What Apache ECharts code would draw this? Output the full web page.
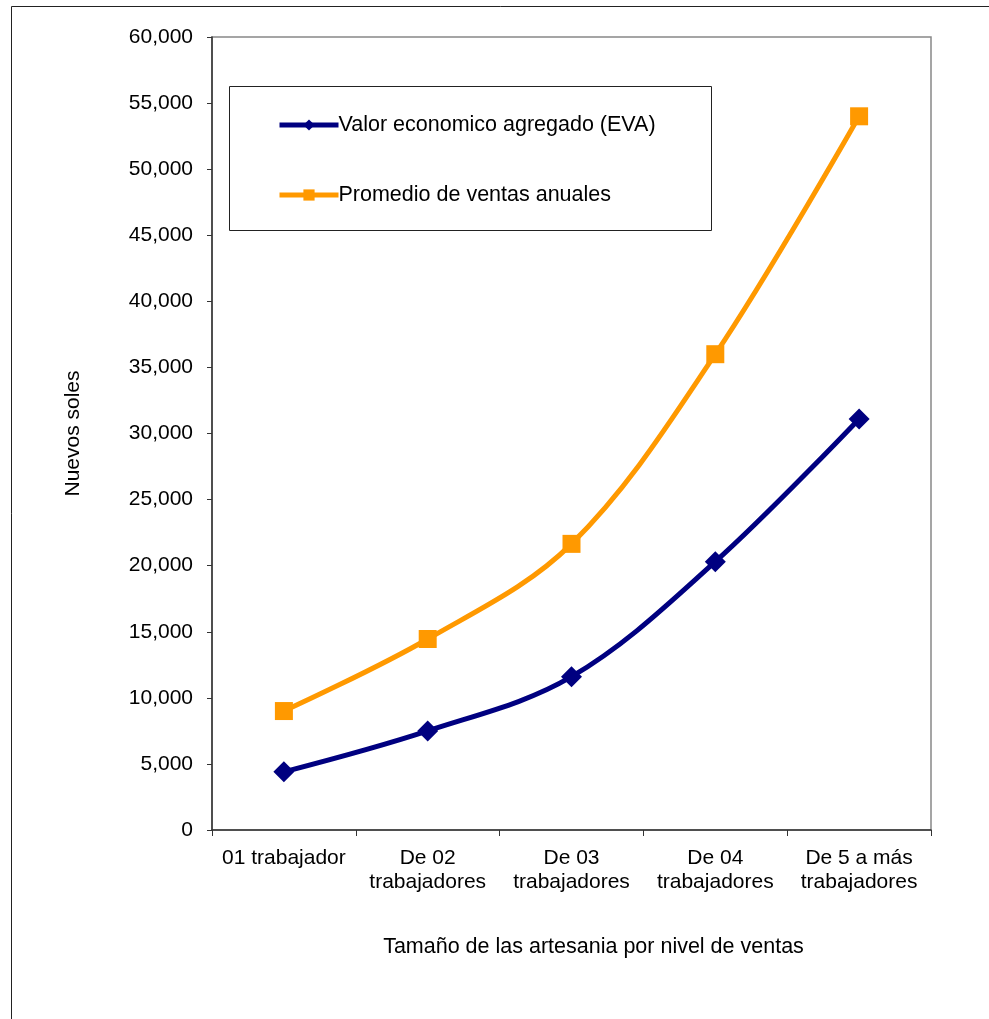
<!DOCTYPE html>
<html>
<head>
<meta charset="utf-8">
<script src="https://cdn.jsdelivr.net/npm/echarts@6/dist/echarts.min.js"></script>
<style>
  html, body { margin: 0; padding: 0; background: #fff; }
  #chart { width: 989px; height: 1019px; }
</style>
</head>
<body>
<div id="chart"></div>
<script>
// Categories: company size by number of workers
const categories = ['01 trabajador', 'De 02\ntrabajadores', 'De 03\ntrabajadores', 'De 04\ntrabajadores', 'De 5 a más\ntrabajadores'];
// Economic value added (EVA), in nuevos soles
const evaValues = [4400, 7500, 11600, 20300, 31100];
// Average annual sales, in nuevos soles
const salesValues = [9000, 14450, 21650, 36000, 54000];
const seriesNames = ['Valor economico agregado (EVA)', 'Promedio de ventas anuales'];

const FONT = 'Liberation Sans, Arial, sans-serif';
const FS = 21;
const chart = echarts.init(document.getElementById('chart'));

chart.setOption({
  backgroundColor: '#ffffff',
  animation: false,
  textStyle: { fontFamily: FONT, color: '#000' },
  graphic: [
    // outer chart frame (top and left edges visible)
    { type: 'polyline', silent: true, shape: { points: [[11.5, 1100], [11.5, 6.5], [1100, 6.5]] },
      style: { stroke: '#222', lineWidth: 1, fill: null } },
    // legend frame
    { type: 'rect', silent: true, shape: { x: 229.5, y: 86.5, width: 482, height: 144 },
      style: { stroke: '#222', lineWidth: 1, fill: '#fff' }, z: 5 }
  ],
  legend: {
    orient: 'vertical',
    left: 272,
    top: 109,
    itemGap: 48,
    itemWidth: 59,
    itemHeight: 14,
    lineStyle: { width: 5 },
    textStyle: { fontSize: 21.5, fontFamily: FONT, color: '#000', padding: [0, 0, 0, -5] },
    data: seriesNames,
    z: 10
  },
  grid: {
    left: 212, top: 37, right: 58, bottom: 189,
    show: true, borderColor: '#888', borderWidth: 1.5, backgroundColor: '#fff'
  },
  xAxis: {
    type: 'category',
    data: categories,
    boundaryGap: true,
    name: 'Tamaño de las artesania por nivel de ventas',
    nameLocation: 'middle',
    nameGap: 106,
    nameTextStyle: { fontSize: 21.5, fontFamily: FONT, color: '#000', padding: [0, 0, 0, 44] },
    axisLine: { lineStyle: { color: '#333', width: 1.5 } },
    axisTick: { show: true, length: 6, alignWithLabel: false, lineStyle: { color: '#333' } },
    axisLabel: { fontSize: FS, fontFamily: FONT, color: '#000', margin: 16, lineHeight: 24, interval: 0 },
    splitLine: { show: false }
  },
  yAxis: {
    type: 'value',
    min: 0, max: 60000, interval: 5000,
    name: 'Nuevos soles',
    nameLocation: 'middle',
    nameGap: 128,
    nameTextStyle: { fontSize: FS, fontFamily: FONT, color: '#000' },
    axisLine: { show: true, lineStyle: { color: '#333', width: 1.5 } },
    axisTick: { show: true, length: 5, lineStyle: { color: '#333' } },
    axisLabel: {
      fontSize: FS, fontFamily: FONT, color: '#000', margin: 19,
      formatter: v => v === 0 ? '0' : v.toLocaleString('en-US')
    },
    splitLine: { show: false }
  },
  series: [
    {
      name: seriesNames[0],
      type: 'line',
      data: evaValues,
      smooth: 0.35,
      symbol: 'diamond',
      symbolSize: 21,
      color: '#000080',
      lineStyle: { width: 5, color: '#000080' },
      itemStyle: { color: '#000080' },
      z: 3
    },
    {
      name: seriesNames[1],
      type: 'line',
      data: salesValues,
      smooth: 0.35,
      symbol: 'rect',
      symbolSize: 18,
      color: '#FF9900',
      lineStyle: { width: 5, color: '#FF9900' },
      itemStyle: { color: '#FF9900' },
      z: 3
    }
  ]
});
</script>
</body>
</html>
